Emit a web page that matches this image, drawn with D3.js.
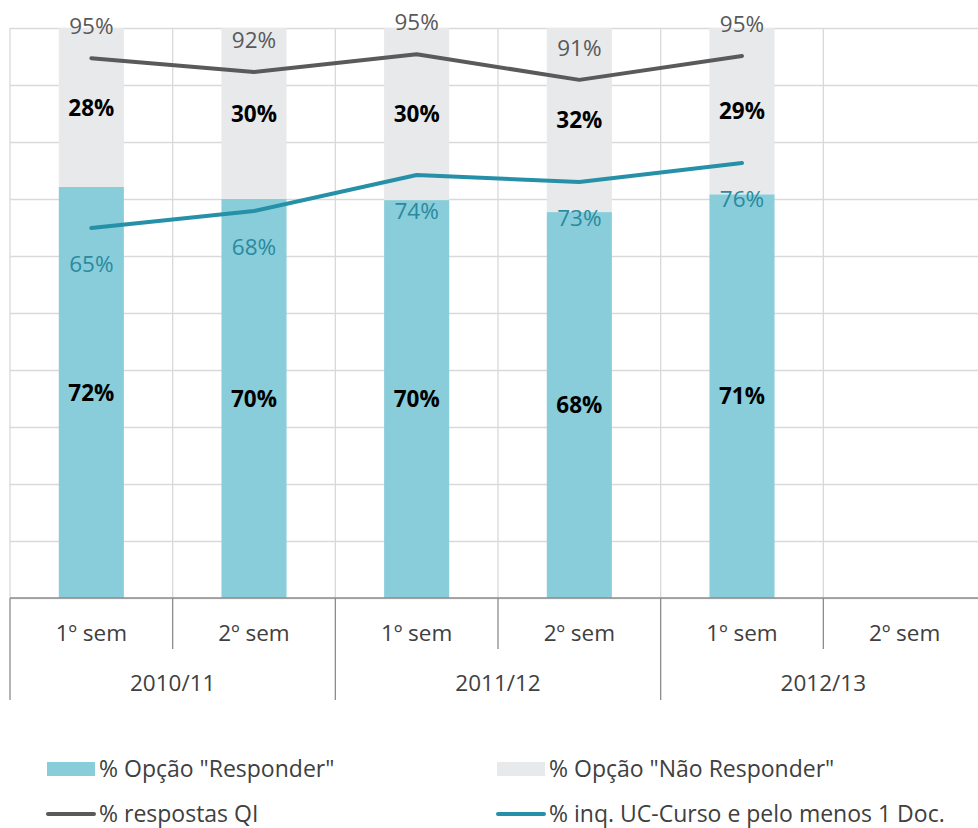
<!DOCTYPE html>
<html>
<head>
<meta charset="utf-8">
<script src="https://cdn.jsdelivr.net/npm/d3@7"></script>
<style>
  body { margin: 0; background: #fff; }
  svg { display: block; font-family: "Open Sans", sans-serif; }
</style>
</head>
<body>
<div id="chart"></div>
<script>
// data
var years = ["2010/11", "2011/12", "2012/13"];
var semesters = ["1º sem", "2º sem"];
var categories = ["2010/11 1", "2010/11 2", "2011/12 1", "2011/12 2", "2012/13 1", "2012/13 2"];
var responder = [72.1, 70.0, 69.8, 67.7, 70.8];
var naoResponder = [27.9, 30.0, 30.2, 32.3, 29.2];
var respostasQI = [94.7, 92.3, 95.4, 90.9, 95.1];
var inqUC = [64.9, 67.9, 74.2, 73.0, 76.3];
var yTicks = [0, 10, 20, 30, 40, 50, 60, 70, 80, 90, 100];

var seriesNames = ['% Opção "Responder"', '% Opção "Não Responder"', "% respostas QI", "% inq. UC-Curso e pelo menos 1 Doc."];

var width = 978;
var height = 828;
var plot = { left: 10, right: 986, top: 28, bottom: 598 };

var colBlue = "#88cdd9";
var colGray = "#e8e9eb";
var colLineGray = "#5a5a5a";
var colTeal = "#2590a8";
var labelSize = 22.5;

var svg = d3.select("#chart")
    .append("svg")
    .attr("width", width)
    .attr("height", height);

var x = d3.scaleBand()
    .domain(categories)
    .range([plot.left, plot.right])
    .paddingInner(0.6)
    .paddingOuter(0.3);

var xCat = d3.scaleBand()
    .domain(categories)
    .range([plot.left, plot.right]);

var xYear = d3.scaleBand()
    .domain(years)
    .range([plot.left, plot.right]);

var y = d3.scaleLinear()
    .domain([0, 100])
    .range([plot.bottom, plot.top]);

var fmt = function (v) { return d3.format(".0f")(v) + "%"; };

// horizontal grid
svg.append("g")
    .attr("transform", "translate(" + plot.left + ",0)")
    .call(d3.axisLeft(y).tickValues(yTicks).tickSize(-(plot.right - plot.left)).tickFormat(""))
    .call(function (g) { g.select(".domain").remove(); })
    .selectAll("line")
    .attr("stroke", "#d9d9d9")
    .attr("stroke-width", 1.3);

// vertical grid at category boundaries
var bounds = categories.map(function (c) { return xCat(c); }).concat([plot.right]);
svg.append("g")
    .selectAll("line")
    .data(bounds)
    .join("line")
    .attr("x1", function (d) { return d; })
    .attr("x2", function (d) { return d; })
    .attr("y1", plot.top)
    .attr("y2", plot.bottom)
    .attr("stroke", "#d9d9d9")
    .attr("stroke-width", 1.3);

// stacked bars
var barData = responder.map(function (v, i) {
    return { cat: categories[i], r: v, n: naoResponder[i] };
});

var bars = svg.append("g");
bars.selectAll(".nao")
    .data(barData)
    .join("rect")
    .attr("x", function (d) { return x(d.cat); })
    .attr("width", x.bandwidth())
    .attr("y", function (d) { return y(d.r + d.n); })
    .attr("height", function (d) { return y(d.r) - y(d.r + d.n); })
    .attr("fill", colGray);

bars.selectAll(".resp")
    .data(barData)
    .join("rect")
    .attr("x", function (d) { return x(d.cat); })
    .attr("width", x.bandwidth())
    .attr("y", function (d) { return y(d.r); })
    .attr("height", function (d) { return y(0) - y(d.r); })
    .attr("fill", colBlue);

// bar labels
var cx = function (i) { return x(categories[i]) + x.bandwidth() / 2; };

svg.append("g")
    .selectAll("text")
    .data(barData)
    .join("text")
    .attr("x", function (d, i) { return cx(i); })
    .attr("y", function (d) { return (y(d.r) + y(0)) / 2 + 8; })
    .attr("text-anchor", "middle")
    .attr("font-size", labelSize)
    .attr("font-weight", "bold")
    .attr("fill", "#000")
    .text(function (d) { return fmt(d.r); });

svg.append("g")
    .selectAll("text")
    .data(barData)
    .join("text")
    .attr("x", function (d, i) { return cx(i); })
    .attr("y", function (d) { return (y(d.r) + y(d.r + d.n)) / 2 + 8; })
    .attr("text-anchor", "middle")
    .attr("font-size", labelSize)
    .attr("font-weight", "bold")
    .attr("fill", "#000")
    .text(function (d) { return fmt(d.n); });

// lines
var line = d3.line()
    .x(function (d, i) { return cx(i); })
    .y(function (d) { return y(d); });

svg.append("path")
    .datum(respostasQI)
    .attr("d", line)
    .attr("fill", "none")
    .attr("stroke", colLineGray)
    .attr("stroke-width", 4)
    .attr("stroke-linejoin", "round")
    .attr("stroke-linecap", "round");

svg.append("path")
    .datum(inqUC)
    .attr("d", line)
    .attr("fill", "none")
    .attr("stroke", colTeal)
    .attr("stroke-width", 4)
    .attr("stroke-linejoin", "round")
    .attr("stroke-linecap", "round");

// line labels
svg.append("g")
    .selectAll("text")
    .data(respostasQI)
    .join("text")
    .attr("x", function (d, i) { return cx(i); })
    .attr("y", function (d) { return y(d) - 32 + 8; })
    .attr("text-anchor", "middle")
    .attr("font-size", labelSize)
    .attr("fill", "#595959")
    .text(fmt);

svg.append("g")
    .selectAll("text")
    .data(inqUC)
    .join("text")
    .attr("x", function (d, i) { return cx(i); })
    .attr("y", function (d) { return y(d) + 36 + 8; })
    .attr("text-anchor", "middle")
    .attr("font-size", labelSize)
    .attr("fill", "#2a8aa0")
    .text(fmt);

// x axis (two levels)
var axisColor = "#8c8c8c";
svg.append("line")
    .attr("x1", plot.left).attr("x2", plot.right)
    .attr("y1", plot.bottom).attr("y2", plot.bottom)
    .attr("stroke", axisColor).attr("stroke-width", 1.5);

var semAxis = svg.append("g")
    .attr("transform", "translate(0," + plot.bottom + ")")
    .call(d3.axisBottom(xCat).tickSize(0).tickPadding(0)
        .tickFormat(function (d, i) { return semesters[i % 2]; }));
semAxis.select(".domain").remove();
semAxis.selectAll("text")
    .attr("y", 43)
    .attr("dy", null)
    .attr("font-size", 22.5)
    .attr("font-family", "Open Sans, sans-serif")
    .attr("fill", "#404040");

var yearAxis = svg.append("g")
    .attr("transform", "translate(0," + plot.bottom + ")")
    .call(d3.axisBottom(xYear).tickSize(0).tickPadding(0));
yearAxis.select(".domain").remove();
yearAxis.selectAll("text")
    .attr("y", 93)
    .attr("dy", null)
    .attr("font-size", 22.5)
    .attr("font-family", "Open Sans, sans-serif")
    .attr("fill", "#404040");

// separators
svg.append("g")
    .selectAll("line")
    .data(bounds)
    .join("line")
    .attr("x1", function (d) { return d; })
    .attr("x2", function (d) { return d; })
    .attr("y1", plot.bottom)
    .attr("y2", function (d, i) { return i % 2 === 0 ? plot.bottom + 102 : plot.bottom + 51; })
    .attr("stroke", axisColor)
    .attr("stroke-width", 1.3);

// legend
var legendItems = [
    { name: seriesNames[0], type: "rect", color: colBlue, x: 47, y: 769 },
    { name: seriesNames[1], type: "rect", color: colGray, x: 497, y: 769 },
    { name: seriesNames[2], type: "line", color: colLineGray, x: 47, y: 814 },
    { name: seriesNames[3], type: "line", color: colTeal, x: 497, y: 814 }
];

var leg = svg.append("g")
    .selectAll("g")
    .data(legendItems)
    .join("g")
    .attr("transform", function (d) { return "translate(" + d.x + "," + d.y + ")"; });

leg.filter(function (d) { return d.type === "rect"; })
    .append("rect")
    .attr("x", 0).attr("y", -7)
    .attr("width", 48).attr("height", 14)
    .attr("fill", function (d) { return d.color; });

leg.filter(function (d) { return d.type === "line"; })
    .append("line")
    .attr("x1", 1).attr("x2", 47)
    .attr("y1", 0).attr("y2", 0)
    .attr("stroke", function (d) { return d.color; })
    .attr("stroke-width", 4)
    .attr("stroke-linecap", "round");

leg.append("text")
    .attr("x", 52)
    .attr("y", 8)
    .attr("font-size", 23)
    .attr("fill", "#404040")
    .text(function (d) { return d.name; });
</script>
</body>
</html>
